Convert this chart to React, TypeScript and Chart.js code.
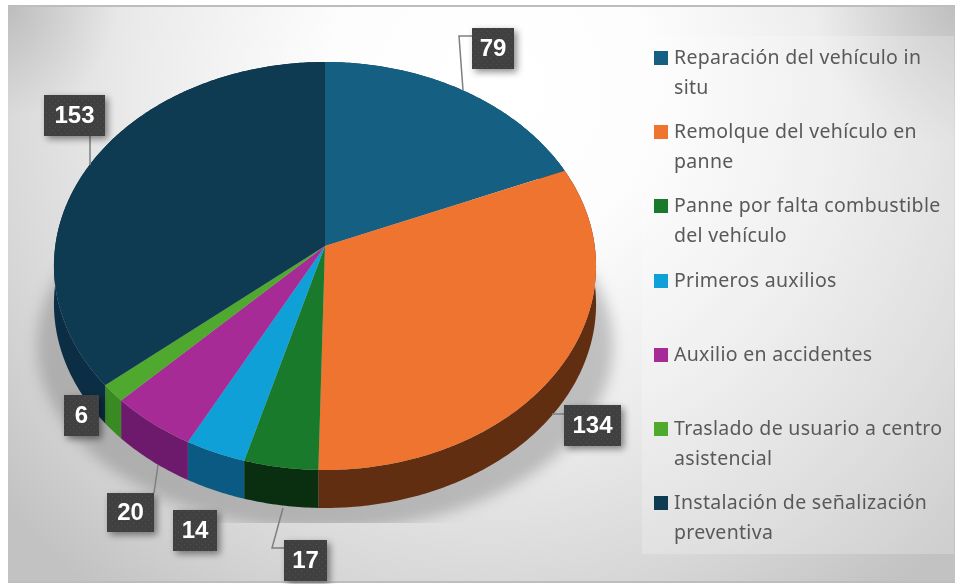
import React, { useEffect, useRef } from "react";
import { Chart, registerables } from "chart.js";

Chart.register(...registerables);

const categories: string[][] = [
  ["Reparación del vehículo in", "situ"],
  ["Remolque del vehículo en", "panne"],
  ["Panne por falta combustible", "del vehículo"],
  ["Primeros auxilios"],
  ["Auxilio en accidentes"],
  ["Traslado de usuario a centro", "asistencial"],
  ["Instalación de señalización", "preventiva"],
];
const values = [79, 134, 17, 14, 20, 6, 153];
const topColors = ["#156082", "#EE7430", "#1A7A2C", "#10A0D8", "#A62B96", "#4EA92E", "#0E3A52"];
const sideColors = ["#0C3A50", "#622E12", "#0A2E10", "#0A5A84", "#6E1A6C", "#3A8A24", "#0B2E44"];

// label box layout: [left, top, right, bottom], in the same order as values
const boxLayout = [
  [472, 28, 514, 69],
  [564, 405, 621, 446],
  [284, 540, 327, 581],
  [173, 510, 217, 551],
  [107, 493, 154, 532],
  [64, 395, 99, 436],
  [44, 95, 105, 136],
];
const leaderLayout: number[][][] = [
  [[463, 90], [459, 36], [472, 36]],
  [[552, 414], [564, 414]],
  [[283, 508], [272, 548], [284, 548]],
  [],
  [[158, 465], [154, 493]],
  [],
  [[90, 136], [90, 165]],
];
const legendRowY = [58, 132, 206, 281, 355, 429, 503];

const TILT = 0.098;
const SCALE_X = 1.466;
const SCALE_Y = 1.098;
const DEPTH = 38;

function rim(arc: any, a: number): [number, number] {
  const u = Math.cos(a);
  const v = Math.sin(a);
  const w = 1 - TILT * v;
  return [arc.x + (arc.outerRadius * SCALE_X * u) / w, arc.y + (arc.outerRadius * SCALE_Y * v) / w];
}

function samples(arc: any): number[] {
  const n = Math.max(4, Math.ceil((arc.endAngle - arc.startAngle) * 90));
  const out: number[] = [];
  for (let i = 0; i <= n; i++) out.push(arc.startAngle + ((arc.endAngle - arc.startAngle) * i) / n);
  return out;
}

const pie3d = {
  id: "pie3d",
  beforeDraw(chart: any) {
    const ctx = chart.ctx as CanvasRenderingContext2D;
    ctx.save();
    ctx.fillStyle = "#ffffff";
    ctx.fillRect(0, 0, 959, 584);
    // panel with soft radial shading
    ctx.beginPath();
    ctx.rect(8, 7, 947, 575);
    ctx.clip();
    const g = ctx.createRadialGradient(490, 90, 0, 490, 90, 640);
    g.addColorStop(0, "#ffffff");
    g.addColorStop(0.25, "#fdfdfd");
    g.addColorStop(0.55, "#ebebeb");
    g.addColorStop(0.8, "#d6d6d6");
    g.addColorStop(1, "#c2c2c2");
    ctx.fillStyle = g;
    ctx.fillRect(8, 7, 947, 575);
    // darker upper corners
    ([[8, 7, 110], [955, 7, 140]] as number[][]).forEach(([x, y, r]) => {
      const c = ctx.createRadialGradient(x, y, 0, x, y, r);
      c.addColorStop(0, "rgba(0,0,0,0.13)");
      c.addColorStop(1, "rgba(0,0,0,0)");
      ctx.fillStyle = c;
      ctx.fillRect(x - r, y, r * 2, r);
    });
    // ground shadow
    ctx.save();
    ctx.beginPath();
    ctx.rect(8, 200, 947, 323);
    ctx.clip();
    ctx.filter = "blur(7px)";
    ctx.fillStyle = "rgba(110,110,110,0.38)";
    ctx.beginPath();
    ctx.ellipse(325, 345, 288, 185, 0, 0, Math.PI * 2);
    ctx.fill();
    ctx.restore();
    ctx.restore();
    // panel edge lines
    ctx.fillStyle = "#bdbdbd";
    ctx.fillRect(8, 5, 947, 2);
    ctx.fillRect(8, 581, 947, 2);
  },
  beforeDatasetDraw() {
    return false;
  },
  afterDatasetsDraw(chart: any) {
    const ctx = chart.ctx as CanvasRenderingContext2D;
    const arcs = chart.getDatasetMeta(0).data;
    ctx.save();
    // side walls
    arcs.forEach((arc: any, i: number) => {
      const pts = samples(arc).map((a) => rim(arc, a));
      ctx.beginPath();
      pts.forEach((p, k) => (k ? ctx.lineTo(p[0], p[1]) : ctx.moveTo(p[0], p[1])));
      [...pts].reverse().forEach((p) => ctx.lineTo(p[0], p[1] + DEPTH));
      ctx.closePath();
      ctx.fillStyle = sideColors[i];
      ctx.fill();
    });
    // top faces
    arcs.forEach((arc: any, i: number) => {
      ctx.beginPath();
      ctx.moveTo(arc.x, arc.y);
      samples(arc).forEach((a) => {
        const p = rim(arc, a);
        ctx.lineTo(p[0], p[1]);
      });
      ctx.closePath();
      ctx.fillStyle = topColors[i];
      ctx.fill();
    });
    ctx.restore();

    // legend panel
    ctx.save();
    ctx.fillStyle = "rgba(255,255,255,0.22)";
    ctx.fillRect(642, 36, 312, 518);
    ctx.textBaseline = "middle";
    ctx.textAlign = "left";
    ctx.font = "19.5px 'Noto Sans'";
    (ctx as any).letterSpacing = "0.3px";
    categories.forEach((lines, i) => {
      const y = legendRowY[i];
      ctx.fillStyle = topColors[i];
      ctx.fillRect(654, y - 7, 14, 14);
      ctx.fillStyle = "#595959";
      lines.forEach((line, k) => ctx.fillText(line, 674, y + k * 30));
    });
    ctx.restore();

    // leaders
    ctx.save();
    ctx.strokeStyle = "#7f7f7f";
    ctx.lineWidth = 1.5;
    leaderLayout.forEach((pts) => {
      if (!pts.length) return;
      ctx.beginPath();
      pts.forEach((p, k) => (k ? ctx.lineTo(p[0], p[1]) : ctx.moveTo(p[0], p[1])));
      ctx.stroke();
    });
    ctx.restore();

    // value labels
    const tile = document.createElement("canvas");
    tile.width = 6;
    tile.height = 6;
    const t = tile.getContext("2d")!;
    t.fillStyle = "#404040";
    t.fillRect(0, 0, 6, 6);
    t.fillStyle = "#505050";
    t.fillRect(1, 1, 1, 1);
    t.fillRect(4, 4, 1, 1);
    const pattern = ctx.createPattern(tile, "repeat")!;
    values.forEach((v, i) => {
      const [l, tp, r, b] = boxLayout[i];
      ctx.save();
      ctx.shadowColor = "rgba(0,0,0,0.45)";
      ctx.shadowBlur = 7;
      ctx.shadowOffsetX = 3;
      ctx.shadowOffsetY = 3;
      ctx.fillStyle = pattern;
      ctx.fillRect(l, tp, r - l, b - tp);
      ctx.restore();
      ctx.save();
      ctx.fillStyle = "#ffffff";
      ctx.font = "bold 24px 'Liberation Sans'";
      ctx.textAlign = "center";
      ctx.textBaseline = "middle";
      ctx.fillText(String(v), (l + r) / 2, (tp + b) / 2 + 1);
      ctx.restore();
    });
  },
};

export default function App() {
  const ref = useRef<HTMLCanvasElement | null>(null);
  useEffect(() => {
    const chart = new Chart(ref.current!, {
      type: "pie",
      data: {
        labels: categories.map((c) => c.join(" ")),
        datasets: [{ data: values, backgroundColor: topColors, borderWidth: 0 }],
      },
      options: {
        responsive: false,
        animation: false,
        layout: { padding: { left: 141, right: 450, top: 62, bottom: 154 } },
        plugins: { legend: { display: false }, tooltip: { enabled: false } },
        events: [],
      },
      plugins: [pie3d],
    } as any);
    return () => chart.destroy();
  }, []);
  return (
    <div style={{ position: "absolute", left: 0, top: 0, width: 959, height: 584 }}>
      <canvas ref={ref} width={959} height={584} style={{ display: "block", filter: "blur(0.4px)" }} />
    </div>
  );
}
